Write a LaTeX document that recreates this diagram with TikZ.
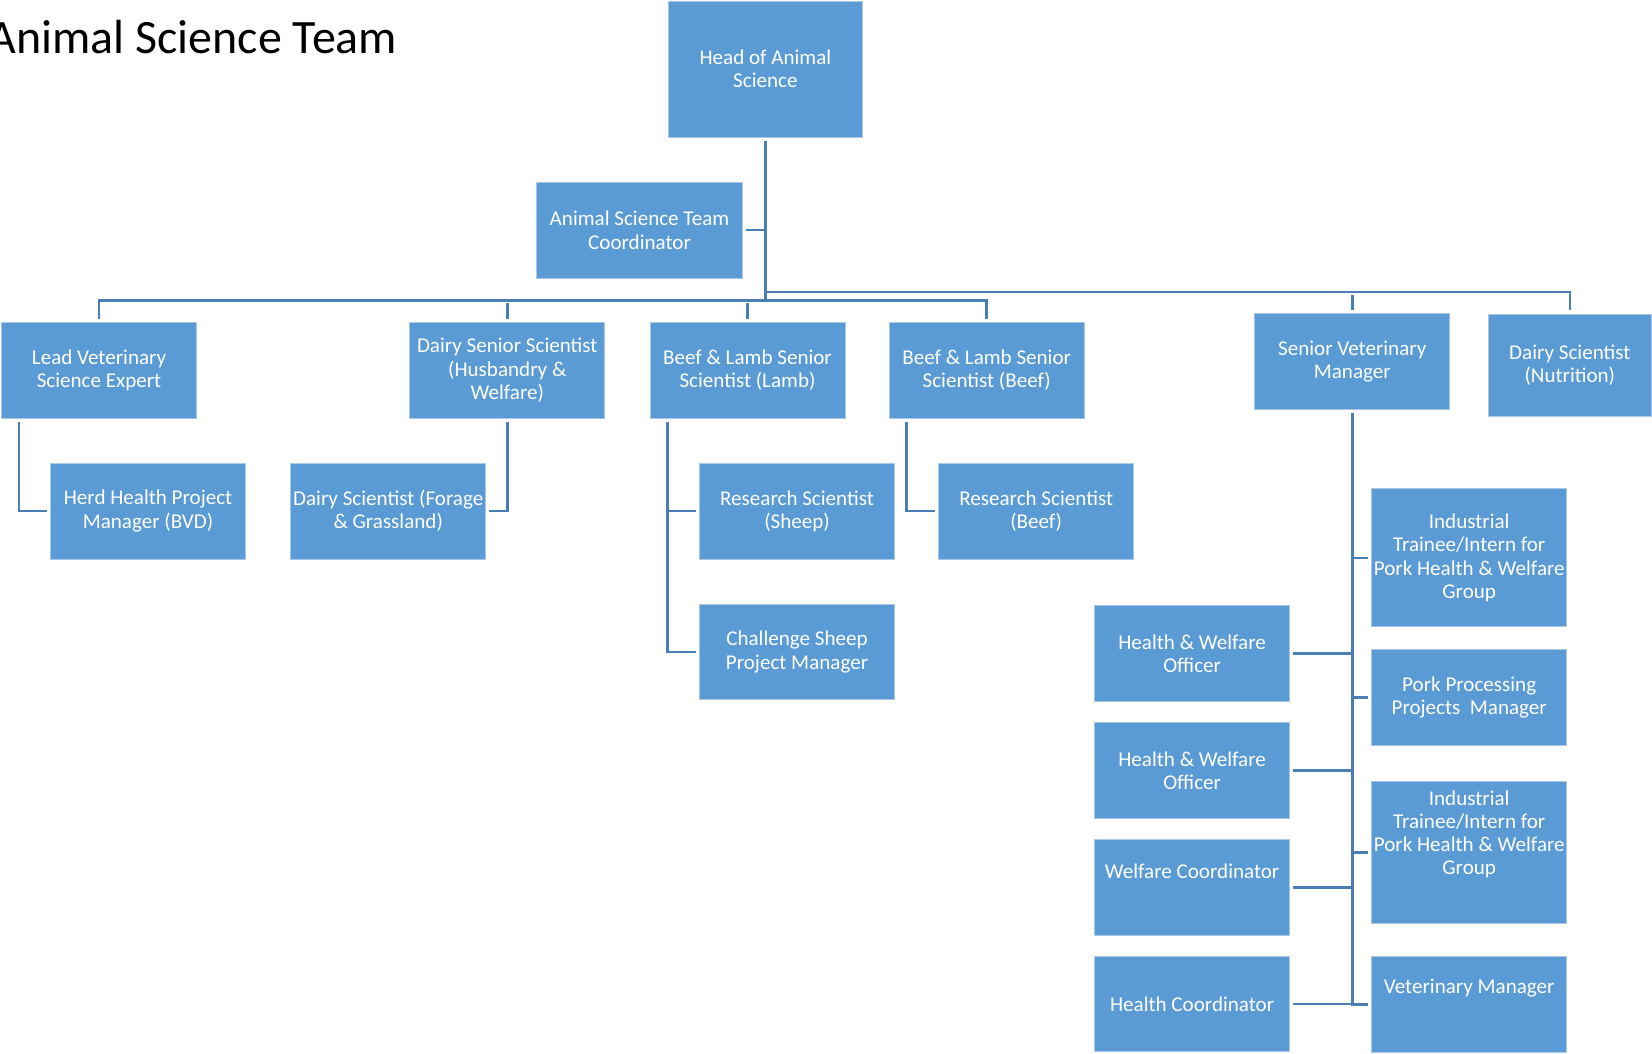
\documentclass[tikz,border=0pt]{standalone}
\usepackage{fontspec}
\setmainfont{Carlito}
\usepackage{xcolor}
\definecolor{boxBlue}{HTML}{5B9BD5}
\definecolor{edgeBlue}{HTML}{A9C8EA}
\definecolor{lineBlue}{HTML}{4A7EB5}
\usepackage{tikz}
\tikzset{role/.style = {rectangle, fill = boxBlue, draw = edgeBlue, line width = 0.8pt,
		text = white, align = center, inner sep = 0pt,
		minimum width = 185pt, minimum height = 91pt,
		font = \fontsize{20pt}{22pt}\selectfont}}
\tikzset{link/.style = {draw = lineBlue, line width = 2.5pt, shorten <= 3pt, shorten >= 3pt}}
\usetikzlibrary{positioning}
\usetikzlibrary{calc}

\begin{document}
\begin{tikzpicture}[x = 1pt, y = 1pt]
	\useasboundingbox (0, 0) rectangle (1568, -1000);

	\node[anchor = base west, inner sep = 0pt, font = \fontsize{45.5pt}{54pt}\selectfont] (title) at (-11, -51) {Animal Science Team};

	%% Level 0
	\node[role, minimum height = 129pt] (head) at (726.5, -65.5) {Head of Animal\\Science};
	\node[role, minimum width = 196pt] (coord) at (607, -218.5) {Animal Science Team\\Coordinator};

	%% Level 1
	\node[role] (leadVet) at (94, -351.5) {Lead Veterinary\\Science Expert};
	\node[role] (dairySenior) at (481.5, -351.5) {Dairy Senior Scientist\\(Husbandry \&\\Welfare)};
	\node[role] (lambSci) at (709.5, -351.5) {Beef \& Lamb Senior\\Scientist (Lamb)};
	\node[role] (beefSci) at (936.5, -351.5) {Beef \& Lamb Senior\\Scientist (Beef)};
	\node[role] (seniorVet) at (1283.5, -343) {Senior Veterinary\\Manager};
	\node[role, minimum width = 154pt, minimum height = 97pt] (dairyNutr) at (1490, -346.5) {Dairy Scientist\\(Nutrition)};

	%% Level 2
	\node[role] (herdHealth) at (140.5, -485) {Herd Health Project\\Manager (BVD)};
	\node[role] (forage) at (368.5, -485) {Dairy Scientist (Forage\\\& Grassland)};
	\node[role] (sheepSci) at (756.5, -485) {Research Scientist\\(Sheep)};
	\node[role, below = 42pt of sheepSci] (challenge) {Challenge Sheep\\Project Manager};
	\node[role] (beefRes) at (983.5, -485) {Research Scientist\\(Beef)};

	\node[role, minimum height = 131pt] (traineeA) at (1394.5, -529.5) {Industrial\\Trainee/Intern for\\Pork Health \& Welfare\\Group};
	\node[role] (porkMgr) at (1394.5, -662) {Pork Processing\\Projects~ Manager};
	\node[role, minimum height = 134pt] (traineeB) at (1394.5, -809) {Industrial\\Trainee/Intern for\\Pork Health \& Welfare\\Group\\[15pt]\mbox{}};
	\node[role] (vetMgr) at (1394.5, -953.5) {Veterinary Manager\\[13pt]\mbox{}};

	\node[role] (officerA) at (1131.5, -620.5) {Health \& Welfare\\Officer};
	\node[role, below = 19pt of officerA] (officerB) {Health \& Welfare\\Officer};
	\node[role, below = 19pt of officerB] (welfareCoord) {Welfare Coordinator\\[9pt]\mbox{}};
	\node[role, below = 19pt of welfareCoord] (healthCoord) {Health Coordinator};

	%% Connectors
	\coordinate (busLow) at (726, -285);
	\coordinate (busHigh) at (726, -277);

	\draw[link, line width = 3pt, shorten >= 0pt] (head.south) -- (head.south |- busLow);
	\draw[link, line width = 2pt, shorten >= 0pt] (coord.east) -- (coord.east -| head.south);

	\draw[link] (leadVet.north) -- (leadVet.north |- busLow) -| (beefSci.north);
	\draw[link] (dairySenior.north) -- (dairySenior.north |- busLow);
	\draw[link] (lambSci.north) -- (lambSci.north |- busLow);
	\draw[link, shorten <= 0pt] (head.south |- busHigh) -| (dairyNutr.north);
	\draw[link] (seniorVet.north) -- (seniorVet.north |- busHigh);

	\draw[link] ([xshift = 17pt]leadVet.south west) |- (herdHealth.west);
	\draw[link] (dairySenior.south) |- (forage.east);
	\draw[link] ([xshift = 17pt]lambSci.south west) |- (sheepSci.west);
	\draw[link] ([xshift = 17pt]lambSci.south west) |- (challenge.west);
	\draw[link] ([xshift = 17pt]beefSci.south west) |- (beefRes.west);

	\foreach \staff in {traineeA, porkMgr, traineeB, vetMgr}
		\draw[link] (seniorVet.south) |- (\staff.west);
	\foreach \staff in {officerA, officerB, welfareCoord, healthCoord}
		\draw[link] (seniorVet.south) |- (\staff.east);

\end{tikzpicture}
\end{document}
